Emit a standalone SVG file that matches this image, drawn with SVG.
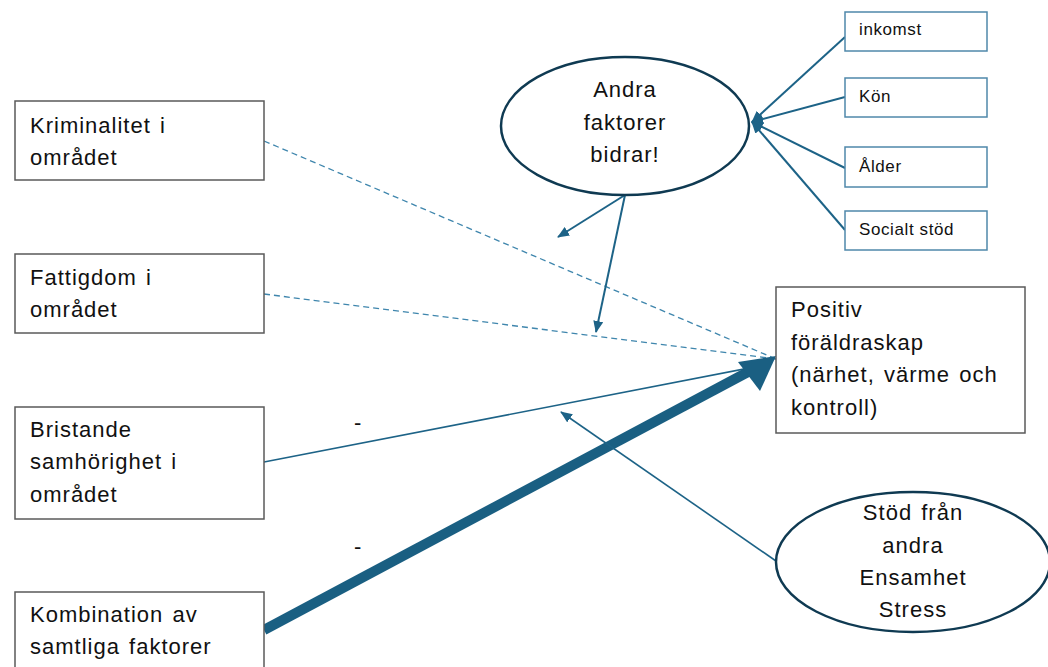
<svg xmlns="http://www.w3.org/2000/svg" width="1048" height="667" viewBox="0 0 1048 667">
<defs>
<style>
.box{fill:#fff;stroke:#5a5a5a;stroke-width:1.5}
.sbox{fill:#fff;stroke:#4f88aa;stroke-width:1.5}
.ell{fill:#fff;stroke:#0f3a52;stroke-width:2.5}
.t{font-family:"Liberation Sans",Arial,sans-serif;font-size:22px;letter-spacing:1px;word-spacing:2px;fill:#111}
.ts{font-family:"Liberation Sans",Arial,sans-serif;font-size:17px;letter-spacing:0.6px;fill:#111}
.c{stroke:#1d6387;stroke-width:2;fill:none}
.thin{stroke:#1d6387;stroke-width:1.6;fill:none}
.dash{stroke:#3f86ad;stroke-width:1.3;stroke-dasharray:6,4;fill:none}
</style>
<marker id="ah" markerWidth="12" markerHeight="10" refX="11" refY="5" orient="auto" markerUnits="userSpaceOnUse">
<path d="M0,0 L12,5 L0,10 Z" fill="#1d6387"/>
</marker>
</defs>

<g id="connectors">
<line class="dash" x1="264" y1="141" x2="776" y2="359"/>
<line class="dash" x1="264" y1="294" x2="776" y2="359"/>
<line class="thin" x1="264" y1="462" x2="770" y2="364" marker-end="url(#ah)"/>
<line x1="264" y1="630" x2="748" y2="372" stroke="#1a5f82" stroke-width="10"/>
<polygon points="776,356 738,362 760,391" fill="#1a5f82"/>
<line class="thin" x1="776" y1="561" x2="561" y2="412" marker-end="url(#ah)"/>
<line class="c" x1="625" y1="195" x2="558" y2="237" marker-end="url(#ah)"/>
<line class="c" x1="625" y1="195" x2="596" y2="332" marker-end="url(#ah)"/>
<line class="c" x1="845" y1="37" x2="752" y2="122" marker-end="url(#ah)"/>
<line class="c" x1="845" y1="97" x2="752" y2="122" marker-end="url(#ah)"/>
<line class="c" x1="845" y1="168" x2="752" y2="122" marker-end="url(#ah)"/>
<line class="c" x1="845" y1="230" x2="752" y2="122" marker-end="url(#ah)"/>
<text class="t" x="354" y="430">-</text>
<text class="t" x="354" y="554">-</text>
</g>

<g id="kriminalitet">
<rect class="box" x="15" y="101" width="249" height="79"/>
<text class="t" x="30" y="133">Kriminalitet i</text>
<text class="t" x="30" y="165">området</text>
</g>
<g id="fattigdom">
<rect class="box" x="15" y="254" width="249" height="79"/>
<text class="t" x="30" y="285">Fattigdom i</text>
<text class="t" x="30" y="317">området</text>
</g>
<g id="bristande">
<rect class="box" x="15" y="407" width="249" height="112"/>
<text class="t" x="30" y="437">Bristande</text>
<text class="t" x="30" y="469">samhörighet  i</text>
<text class="t" x="30" y="502">området</text>
</g>
<g id="kombination">
<rect class="box" x="15" y="592" width="249" height="90"/>
<text class="t" x="30" y="622">Kombination  av</text>
<text class="t" x="30" y="654">samtliga  faktorer</text>
</g>
<g id="positiv">
<rect class="box" x="776" y="287" width="249" height="146"/>
<text class="t" x="791" y="317">Positiv</text>
<text class="t" x="791" y="350">föräldraskap</text>
<text class="t" x="791" y="382">(närhet, värme och</text>
<text class="t" x="791" y="415">kontroll)</text>
</g>
<g id="andra">
<ellipse class="ell" cx="625" cy="126" rx="124" ry="69"/>
<text class="t" x="625" y="97" text-anchor="middle">Andra</text>
<text class="t" x="625" y="130" text-anchor="middle">faktorer</text>
<text class="t" x="625" y="162" text-anchor="middle">bidrar!</text>
</g>
<g id="stod">
<ellipse class="ell" cx="913" cy="562" rx="137" ry="70"/>
<text class="t" x="913" y="520" text-anchor="middle">Stöd från</text>
<text class="t" x="913" y="553" text-anchor="middle">andra</text>
<text class="t" x="913" y="585" text-anchor="middle">Ensamhet</text>
<text class="t" x="913" y="617" text-anchor="middle">Stress</text>
</g>
<g id="inkomst">
<rect class="sbox" x="845" y="12" width="142" height="39"/>
<text class="ts" x="859" y="35">inkomst</text>
</g>
<g id="kon">
<rect class="sbox" x="845" y="78" width="142" height="39"/>
<text class="ts" x="859" y="102">Kön</text>
</g>
<g id="alder">
<rect class="sbox" x="845" y="147" width="142" height="40"/>
<text class="ts" x="859" y="172">Ålder</text>
</g>
<g id="socialt">
<rect class="sbox" x="845" y="211" width="142" height="39"/>
<text class="ts" x="859" y="235">Socialt stöd</text>
</g>
</svg>
